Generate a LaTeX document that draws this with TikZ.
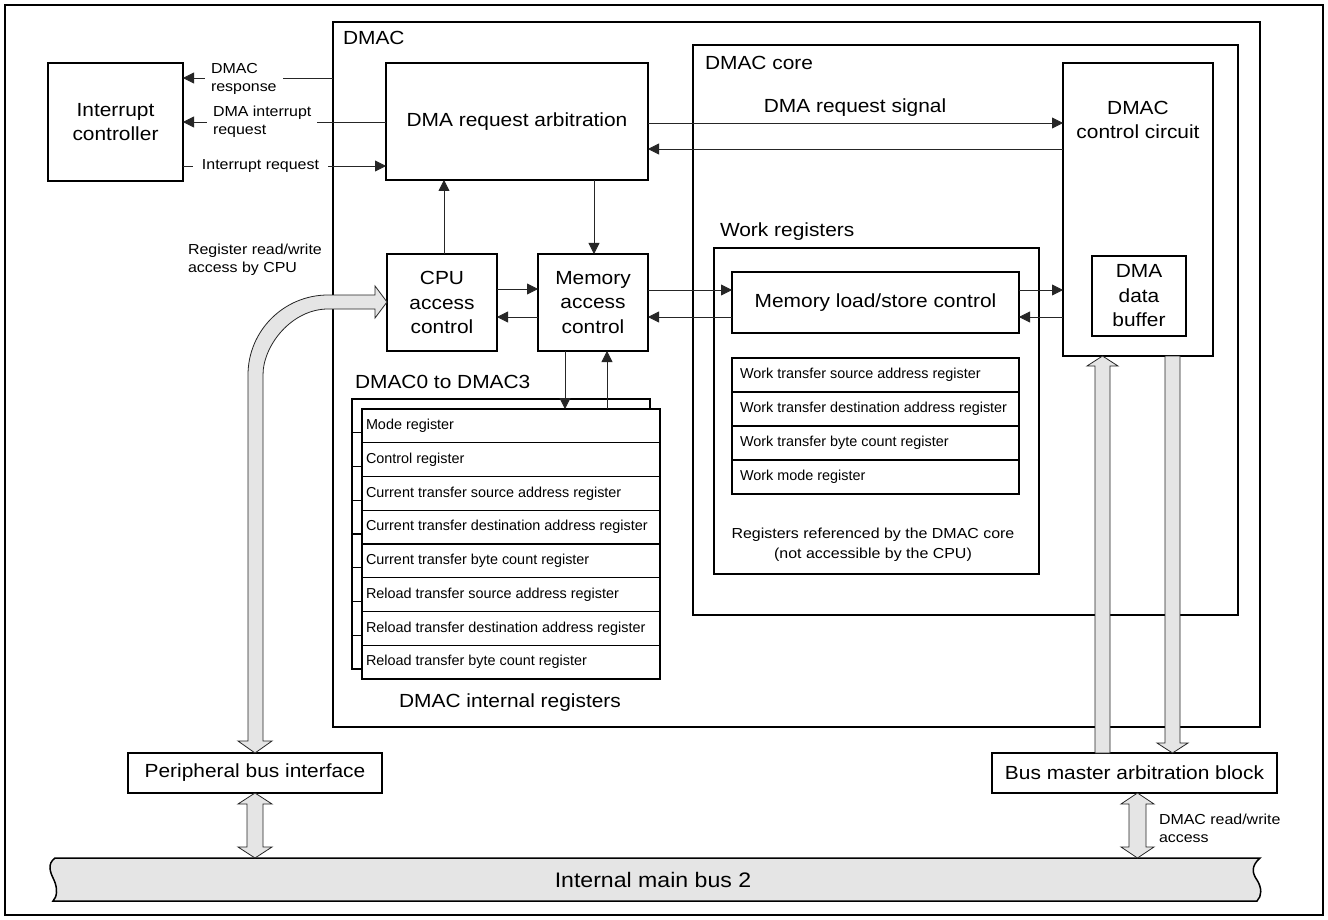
\documentclass[tikz,border=0pt]{standalone}
\usepackage{fontspec}
\setmainfont{Liberation Sans}[FakeStretch=1.1]
\newfontfamily\regfam{Liberation Sans}
\usetikzlibrary{arrows.meta,calc}
\newcommand\fbig{\fontsize{19}{24.5}\selectfont}
\newcommand\fbus{\fontsize{21}{25}\selectfont}
\newcommand\fsmall{\fontsize{14.5}{18}\selectfont}
\newcommand\fnote{\fontsize{14.5}{20}\selectfont}
\newcommand\freg{\regfam\fontsize{14.4}{17}\selectfont}
\tikzset{
 blk/.style={draw, line width=1.3pt, fill=white, inner sep=0pt, outer sep=0pt, align=center, font=\fbig},
 txt/.style={inner sep=0pt, outer sep=0pt, font=\fbig, align=center},
 stxt/.style={inner sep=0pt, outer sep=0pt, font=\fsmall, align=left},
 regrow/.style={draw, line width=1.1pt, fill=white, minimum width=298pt, minimum height=33.75pt, inner sep=0pt, outer sep=0pt},
 wrow/.style={draw, line width=1.1pt, minimum width=287pt, minimum height=34pt, inner sep=0pt, outer sep=0pt},
 regtxt/.style={inner sep=0pt, outer sep=0pt, font=\freg},
 conn/.style={line width=0.8pt, draw=black!85},
 arr/.style={conn, -{Triangle[length=11pt,width=11pt]}},
 fat/.style={draw=black!85, line width=0.8pt, fill=black!10, line join=miter},
 lab/.style={fill=white, inner xsep=6pt, inner ysep=1pt, outer sep=0pt, font=\fsmall, align=left}
}
\begin{document}
\begin{tikzpicture}[x=1pt,y=-1pt]
\useasboundingbox (0,0) rectangle (1328,920);
\fill[white] (0,0) rectangle (1328,920);
% outer frame
\draw[line width=1.8pt] (5,5) rectangle (1323,915);

% DMAC box
\node[blk, line width=1.4pt, minimum width=927pt, minimum height=705pt] (dmac) at (796.5,374.5) {};
\node[txt, anchor=west] (dmaclbl) at (343,38) {DMAC};

% Interrupt controller
\node[blk, minimum width=135pt, minimum height=118pt] (intc) at (115.5,122) {Interrupt\\controller};

% DMA request arbitration
\node[blk, minimum width=262pt, minimum height=117pt] (arb) at (517,121.5) {DMA request arbitration};

% DMAC core
\node[blk, minimum width=545pt, minimum height=570pt] (core) at (965.5,330) {};
\node[txt, anchor=west] (corelbl) at (705,63) {DMAC core};

% DMAC control circuit
\node[blk, minimum width=150pt, minimum height=293pt] (ctrl) at (1138,209.5) {};
\node[txt] (ctrllbl) at (1138,120) {DMAC\\control circuit};
\node[blk, minimum width=94pt, minimum height=80pt] (buf) at (1139,296) {DMA\\data\\buffer};

% CPU / memory access control
\node[blk, minimum width=110pt, minimum height=97pt] (cpu) at (442,302.5) {CPU\\access\\control};
\node[blk, minimum width=110pt, minimum height=97pt] (mem) at (593,302.5) {Memory\\access\\control};

% Work registers
\node[blk, minimum width=325pt, minimum height=326pt] (work) at (876.5,411) {};
\node[txt, anchor=west] (worklbl) at (720,232) {Work registers};
\node[blk, minimum width=287pt, minimum height=61pt] (mls) at (875.5,302.5) {Memory load/store control};
\foreach \t [count=\i] in {Work transfer source address register,Work transfer destination address register,Work transfer byte count register,Work mode register}{
  \node[wrow] (w\i) at (875.5,{358+34*(\i-0.5)}) {};
  \node[regtxt, anchor=west] at ($(w\i.west)+(8,0)$) {\t};
}
\node[inner sep=0pt, font=\fnote, align=center] (note) at (873,545) {Registers referenced by the DMAC core\\(not accessible by the CPU)};

% DMAC0 to DMAC3 registers
\node[txt, anchor=west] (chlbl) at (355,382) {DMAC0 to DMAC3};
\node[draw, line width=1.1pt, fill=white, minimum width=298pt, minimum height=270pt, inner sep=0pt, outer sep=0pt] (back) at (501,534) {};
\foreach \t [count=\i] in {Mode register,Control register,Current transfer source address register,Current transfer destination address register,Current transfer byte count register,Reload transfer source address register,Reload transfer destination address register,Reload transfer byte count register}{
  \node[regrow] (r\i) at (511,{409+33.75*(\i-0.5)}) {};
  \node[regtxt, anchor=west] at ($(r\i.west)+(4,0)$) {\t};
}
\foreach \i in {1,...,7}{
  \draw[line width=1.1pt] (back.west |- 0,{399+33.75*\i}) -- (r1.west |- 0,{399+33.75*\i});
}
\node[txt] (intlbl) at (510,703) {DMAC internal registers};

% Interrupt connectors
\draw[arr] (dmac.west |- 0,78) -- (intc.east |- 0,78);
\node[lab, anchor=west] (lresp) at (205,79) {DMAC\\response};
\draw[arr] (arb.west |- 0,122) -- (intc.east |- 0,122);
\node[lab, anchor=west] (lintreq) at (207,122) {DMA interrupt\\request};
\draw[arr] (intc.east |- 0,166) -- (arb.west |- 0,166);
\node[lab, inner xsep=9pt] (lirq) at (260.5,166) {Interrupt request};

% Arbitration <-> control circuit
\draw[arr] (arb.east |- 0,123) -- (ctrl.west |- 0,123);
\node[txt] (lreqsig) at (855,108) {DMA request signal};
\draw[arr] (ctrl.west |- 0,149) -- (arb.east |- 0,149);

% vertical connectors
\draw[arr] (cpu.north -| 444,0) -- (arb.south -| 444,0);
\draw[arr] (arb.south -| 594,0) -- (mem.north -| 594,0);
\draw[arr] (cpu.east |- 0,289) -- (mem.west |- 0,289);
\draw[arr] (mem.west |- 0,317) -- (cpu.east |- 0,317);
\draw[arr] (mem.east |- 0,290) -- (mls.west |- 0,290);
\draw[arr] (mls.west |- 0,317) -- (mem.east |- 0,317);
\draw[arr] (mls.east |- 0,290) -- (ctrl.west |- 0,290);
\draw[arr] (ctrl.west |- 0,317) -- (mls.east |- 0,317);
\draw[arr] (mem.south -| 565,0) -- (r1.north -| 565,0);
\draw[arr] (r1.north -| 607,0) -- (mem.south -| 607,0);

% Peripheral bus interface and bus master block
\node[blk, minimum width=254pt, minimum height=40pt] (pbi) at (255,773) {Peripheral bus interface};
\node[blk, minimum width=285pt, minimum height=40pt] (bma) at (1134.5,773) {Bus master arbitration block};

% Register read/write label
\node[stxt, anchor=west] (lcpu) at (188,260) {Register read/write\\access by CPU};
\node[stxt, anchor=west] (ldmac) at (1159,828) {DMAC read/write\\access};

% curved fat arrow CPU access
\draw[fat] (255,753) -- (272,741) -- (263,741) -- (263,375)
  .. controls (263,344.9) and (292.1,309) .. (328,309) -- (375,309) -- (375,318) -- (387,302) -- (375,286) -- (375,295) -- (328,295)
  .. controls (283.8,295) and (248,330.8) .. (248,375) -- (248,741) -- (238,741) -- cycle;

% fat arrows data buffer <-> bus master
\draw[fat] (1102.5,356) -- (1118,366) -- (1110,366) -- (1110,753) -- (1095,753) -- (1095,366) -- (1087,366) -- cycle;
\draw[fat] (1165,356) -- (1180,356) -- (1180,743) -- (1188,743) -- (1172.5,753) -- (1157,743) -- (1165,743) -- cycle;

% main bus
\draw[line width=1.5pt, fill=black!10] (55,858) -- (1260,858) .. controls (1251,866) and (1252,873) .. (1257,880) .. controls (1262,888) and (1262,896) .. (1257,901) -- (53,901) .. controls (57,897) and (58,889) .. (54,880) .. controls (50,872) and (47,864) .. (55,858) -- cycle;
\node[inner sep=0pt, font=\fbus] (buslbl) at (653,880) {Internal main bus 2};

% fat double arrows to the bus
\draw[fat] (255,793) -- (272,804) -- (263,804) -- (263,847) -- (272,847) -- (255,858) -- (238,847) -- (247,847) -- (247,804) -- (238,804) -- cycle;
\draw[fat] (1137.5,793) -- (1154,804) -- (1146,804) -- (1146,847) -- (1154,847) -- (1137.5,858) -- (1121,847) -- (1129,847) -- (1129,804) -- (1121,804) -- cycle;
\end{tikzpicture}
\end{document}
